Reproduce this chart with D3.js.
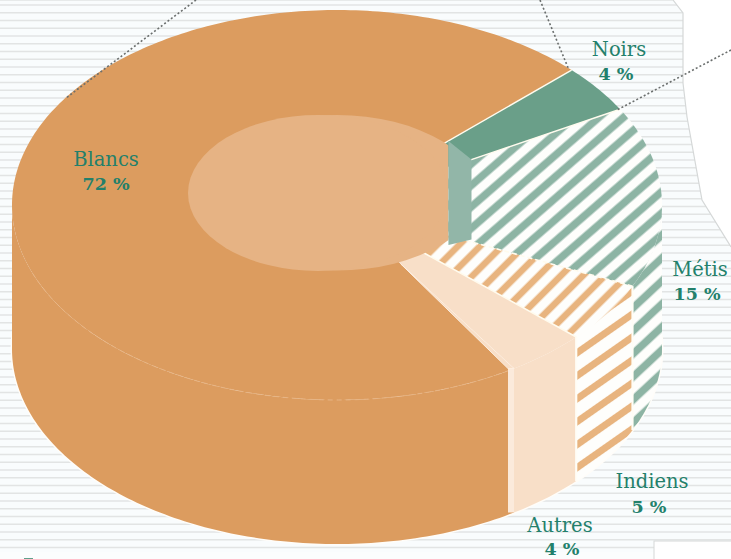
<!DOCTYPE html>
<html><head><meta charset="utf-8">
<script src="https://d3js.org/d3.v7.min.js"></script>
<style>html,body{margin:0;padding:0;background:#fff}svg{display:block}</style>
</head><body><div id="c"></div>
<script>
const categories = ["Blancs","Noirs","Métis","Indiens","Autres"];
const values = [72,4,15,5,4];
const percentLabels = ["72 %","4 %","15 %","5 %","4 %"];

const W=731,H=559;
const cx=337,cy=205,rx=325,ry=195,depth=144;
const deg=Math.PI/180;
const svg=d3.select("#c").append("svg").attr("width",W).attr("height",H);
const defs=svg.append("defs");

function hatch(id,color,angle,period,width,shift){
  const p=defs.append("pattern").attr("id",id).attr("patternUnits","userSpaceOnUse")
    .attr("width",period).attr("height",period).attr("patternTransform",`rotate(${angle}) translate(0,${shift})`);
  p.append("rect").attr("width",period).attr("height",period).attr("fill","#fefefc");
  p.append("rect").attr("y",(period-width)/2).attr("width",period).attr("height",width).attr("fill",color);
}
hatch("hTopG","#8db4a4",-41,16.2,7.6,3.6);
hatch("hSideG","#8db4a4",-43,16.8,7.6,-6.7);
hatch("hTopO","#e8b47f",-45,15.6,6.6,6.5);
hatch("hSideO","#e8b47f",-35,18.8,7,9);

// background
const bgShape=[[0,0],[673,0],[683,13],[683,83],[687,117],[702,200],[731,247],[731,559],[0,559]];
const line=d3.line();
defs.append("clipPath").attr("id","bgClip").append("path").attr("d",line(bgShape)+"Z");
const bg=svg.append("g").attr("clip-path","url(#bgClip)");
bg.append("rect").attr("width",W).attr("height",H).attr("fill","#f9fcfd");
bg.selectAll("line").data(d3.range(5,552,7.75)).join("line")
  .attr("x1",0).attr("x2",W).attr("y1",d=>d).attr("y2",d=>d)
  .attr("stroke","#e2e4e4").attr("stroke-width",1.4);
bg.append("rect").attr("y",552).attr("width",W).attr("height",7).attr("fill","#fbfdfd");
svg.append("path").attr("d",line(bgShape.slice(0,7))).attr("fill","none").attr("stroke","#d5d8d8").attr("stroke-width",1.2);
svg.append("rect").attr("x",654).attr("y",541).attr("width",80).attr("height",30).attr("fill","#fff").attr("stroke","#d5d8d8");

// projection
const project=(a,r,z)=>[cx+rx*r*Math.sin(a),cy-ry*r*Math.cos(a)+z*depth];
const arcPts=(a0,a1,r,z)=>{const n=Math.max(2,Math.ceil(Math.abs(a1-a0)/(1*deg)));
  return d3.range(n+1).map(i=>project(a0+(a1-a0)*i/n,r,z));};

const pie=d3.pie().sort(null).value(d=>d).startAngle(147*deg).endAngle(507*deg);
const arcs=pie(values);

const topFill=["#dc9c5f","#6a9f89","url(#hTopG)","url(#hTopO)","#f8dfc8"];
const sideFill=["#dc9c5f","#6a9f89","url(#hSideG)","url(#hSideO)","#f8dfc8"];
const g=svg.append("g");

// white halo
g.append("ellipse").attr("cx",cx).attr("cy",cy+depth).attr("rx",rx+1.5).attr("ry",ry+1.5).attr("fill","#fffdf9");

// side walls (visible front half only)
arcs.forEach((d,i)=>{
  const s=[];
  [0,-2*Math.PI].forEach(off=>{
    const a0=Math.max(d.startAngle+off,90*deg),a1=Math.min(d.endAngle+off,270*deg);
    if(a1>a0) s.push([a0,a1]);
  });
  s.forEach(([a0,a1])=>{
    const pts=arcPts(a0,a1,1,0).concat(arcPts(a1,a0,1,1));
    g.append("path").attr("d",line(pts)+"Z").attr("fill",sideFill[i]);
  });
});
// top faces drawn as sectors from the centre
arcs.forEach((d,i)=>{
  const pts=[[cx,cy]].concat(arcPts(d.startAngle,d.endAngle,1,0));
  g.append("path").attr("d",line(pts)+"Z").attr("fill",topFill[i]);
});
// faint dashed rim on the front of Blancs
g.append("path").attr("d",line(arcPts(arcs[0].startAngle+1*deg,250*deg,1,0)))
  .attr("fill","none").attr("stroke","#e8b585").attr("stroke-width",1).attr("stroke-dasharray","5 4");

// seams
const seams=g.append("g");
[arcs[3].startAngle,arcs[3].endAngle,arcs[4].endAngle].forEach((a,i)=>{
  const p=project(a,1,0),q=project(a,1,1);
  const x=i===2?p[0]-3:p[0];
  seams.append("line").attr("x1",x).attr("y1",p[1]+(i===2?-1:0)).attr("x2",x).attr("y2",q[1])
    .attr("stroke",i===2?"#fbeadb":"#fffdf6").attr("stroke-width",i===2?6:2.2);
});
// radial seams on top surface
[arcs[1].startAngle,arcs[1].endAngle,arcs[2].endAngle,arcs[3].endAngle].forEach((a,i)=>{
  const p=project(a,1,0),q=project(a,0.36,0);
  g.append("line").attr("x1",p[0]).attr("y1",p[1]).attr("x2",q[0]).attr("y2",q[1])
    .attr("stroke","#fffbee").attr("stroke-width",i<2?1.4:1.6)
    .attr("stroke-dasharray",(i===2)?"5 3":null);
});
// Blancs / Autres edge
{const a=arcs[4].endAngle,p=project(a,1,0),q=project(a,0.36,0),pb=[p[0]-6,p[1]];
 g.append("path").attr("d",line([q,p,pb])+"Z").attr("fill","#f8dfc8").attr("stroke","#fdeee0").attr("stroke-width",1);}

// hole: inner rim ellipse intersected with its raised copy, rounded on the left, cut by the inner wall
const holeRx=149,holeRy=90,holeLift=24.5;
const wallL=project(arcs[1].startAngle,0.475,0),wallR=project(arcs[1].endAngle,0.475,0);
defs.append("clipPath").attr("id","holeA").append("ellipse").attr("cx",cx).attr("cy",cy).attr("rx",holeRx).attr("ry",holeRy);
defs.append("clipPath").attr("id","holeB").append("rect").attr("x",0).attr("y",0).attr("width",wallL[0]).attr("height",H);
const holeWrap=g.append("g").attr("clip-path","url(#holeB)");
holeWrap.append("g").attr("clip-path","url(#holeA)").append("ellipse")
  .attr("cx",cx).attr("cy",cy-holeLift).attr("rx",holeRx).attr("ry",holeRy).attr("fill","#e6b384");
holeWrap.append("ellipse").attr("cx",318).attr("cy",193).attr("rx",130).attr("ry",78).attr("fill","#e6b384");

// inner wall of the Noirs slice
g.append("path").attr("d",line([wallL,wallR,[wallR[0],wallR[1]+80],[wallL[0],wallL[1]+104]])+"Z")
  .attr("fill","#92b6a8");

// leader lines
const leaders=[[[196,0],[66,98]],[[540,0],[569,70]],[[731,50],[617,110]]];
svg.selectAll("path.leader").data(leaders).join("path").attr("class","leader")
  .attr("d",d=>line(d)).attr("fill","none").attr("stroke","#6b6f6e").attr("stroke-width",1.6).attr("stroke-dasharray","2 2.2");

// labels
const labelPos={Blancs:[106,166],Noirs:[619,56],"Métis":[700,276],Indiens:[652,488],Autres:[560,532]};
const pctPos={Blancs:[106,190],Noirs:[616,80],"Métis":[697,300],Indiens:[649,513],Autres:[562,555]};
const green="#23806b";
const lab=svg.append("g").attr("text-anchor","middle").attr("fill",green);
lab.selectAll("text.n").data(categories).join("text").attr("class","n")
  .attr("x",d=>labelPos[d][0]).attr("y",d=>labelPos[d][1]).text(d=>d)
  .attr("font-family","'DejaVu Serif'").attr("font-size",19.5);
lab.selectAll("text.p").data(categories).join("text").attr("class","p")
  .attr("x",d=>pctPos[d][0]).attr("y",d=>pctPos[d][1]).text((d,i)=>percentLabels[i])
  .attr("font-family","'DejaVu Serif'").attr("font-weight","bold").attr("font-size",17.5);
// clipped top of a mark at the page foot
svg.append("rect").attr("x",24).attr("y",558).attr("width",9).attr("height",1).attr("fill","#5fa08c");
</script></body></html>
